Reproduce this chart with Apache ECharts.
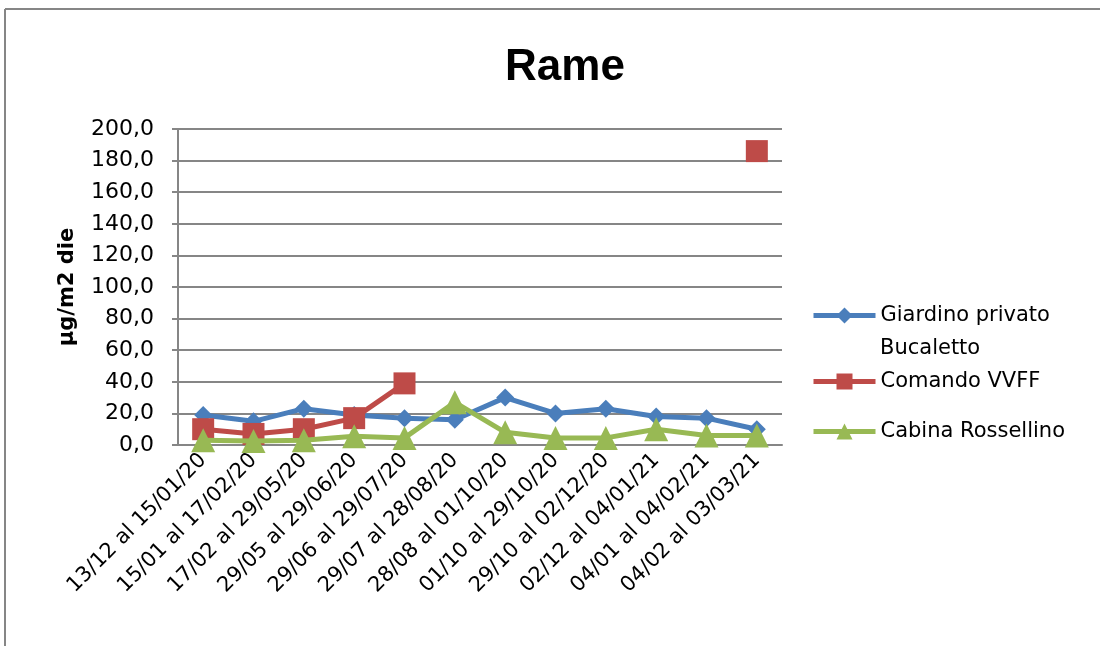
<!DOCTYPE html>
<html>
<head>
<meta charset="utf-8">
<script src="https://cdn.jsdelivr.net/npm/echarts@6/dist/echarts.min.js"></script>
<style>
  html, body { margin: 0; padding: 0; background: #fff; }
  #chart { width: 1100px; height: 646px; }
</style>
</head>
<body>
<div id="chart"></div>
<script>
const categories = [
  '13/12 al 15/01/20', '15/01 al 17/02/20', '17/02 al 29/05/20', '29/05 al 29/06/20',
  '29/06 al 29/07/20', '29/07 al 28/08/20', '28/08 al 01/10/20', '01/10 al 29/10/20',
  '29/10 al 02/12/20', '02/12 al 04/01/21', '04/01 al 04/02/21', '04/02 al 03/03/21'
]
const giardino = [19, 15, 23, 19, 17, 16, 30, 20, 23, 18, 17, 10]
const comando = [10, 7, 10, 17, 39, null, null, null, null, null, null, 186]
const cabina = [3, 2.5, 3, 5.5, 4.5, 27, 8, 4.5, 4.5, 10, 6, 6]
const yTicks = { min: 0, max: 200, interval: 20 }

const font = 'DejaVu Sans'
const chart = echarts.init(document.getElementById('chart'))

const legendBase = {
  orient: 'vertical',
  left: 806,
  itemWidth: 62,
  itemHeight: 20,
  itemGap: 4,
  lineStyle: { width: 5 },
  textStyle: { color: '#000', fontSize: 21, fontFamily: font },
  selectedMode: false
}

const option = {
  animation: false,
  title: {
    text: 'Rame',
    left: 560,
    top: 41,
    textAlign: 'center',
    textStyle: { fontFamily: 'Liberation Sans', fontWeight: 'bold', fontSize: 44, color: '#000' }
  },
  graphic: [
    { type: 'line', shape: { x1: 5, y1: 9, x2: 1100, y2: 9 }, style: { stroke: '#868686', lineWidth: 2 } },
    { type: 'line', shape: { x1: 5, y1: 9, x2: 5, y2: 646 }, style: { stroke: '#868686', lineWidth: 2 } },
    {
      type: 'text', left: 880, top: 338,
      style: { text: 'Bucaletto', fill: '#000', font: '21px "DejaVu Sans"' }
    }
  ],
  legend: [
    Object.assign({}, legendBase, {
      top: 300,
      data: ['Giardino privato Bucaletto'],
      formatter: () => 'Giardino privato'
    }),
    Object.assign({}, legendBase, { top: 366, data: ['Comando VVFF'] }),
    Object.assign({}, legendBase, { top: 416, data: ['Cabina Rossellino'] })
  ],
  grid: { left: 178, right: 318, top: 129, bottom: 201 },
  xAxis: {
    type: 'category',
    data: categories,
    boundaryGap: true,
    axisLine: { lineStyle: { color: '#868686', width: 2 } },
    axisTick: { show: false },
    axisLabel: { rotate: 45, interval: 0, color: '#000', fontSize: 21, fontFamily: font, margin: 12 }
  },
  yAxis: {
    type: 'value',
    min: yTicks.min,
    max: yTicks.max,
    interval: yTicks.interval,
    name: 'µg/m2 die',
    nameLocation: 'middle',
    nameGap: 100,
    nameTextStyle: { color: '#000', fontSize: 21, fontWeight: 'bold', fontFamily: font },
    axisLine: { show: true, lineStyle: { color: '#868686', width: 2 } },
    axisTick: { show: true, inside: false, length: 6, lineStyle: { color: '#868686', width: 2 } },
    splitLine: { lineStyle: { color: '#868686', width: 2 } },
    axisLabel: {
      color: '#000', fontSize: 22, fontFamily: font, margin: 24,
      formatter: v => v.toFixed(1).replace('.', ',')
    }
  },
  series: [
    {
      name: 'Giardino privato Bucaletto',
      type: 'line',
      data: giardino,
      symbol: 'diamond',
      symbolSize: 18,
      lineStyle: { color: '#4a7ebb', width: 5 },
      itemStyle: { color: '#4a7ebb' },
      z: 2
    },
    {
      name: 'Comando VVFF',
      type: 'line',
      data: comando,
      connectNulls: false,
      symbol: 'rect',
      symbolSize: 22,
      lineStyle: { color: '#be4b48', width: 5 },
      itemStyle: { color: '#be4b48' },
      z: 3
    },
    {
      name: 'Cabina Rossellino',
      type: 'line',
      data: cabina,
      symbol: 'triangle',
      symbolSize: 24,
      lineStyle: { color: '#98b954', width: 5 },
      itemStyle: { color: '#98b954' },
      z: 4
    }
  ]
}

chart.setOption(option)
</script>
</body>
</html>
